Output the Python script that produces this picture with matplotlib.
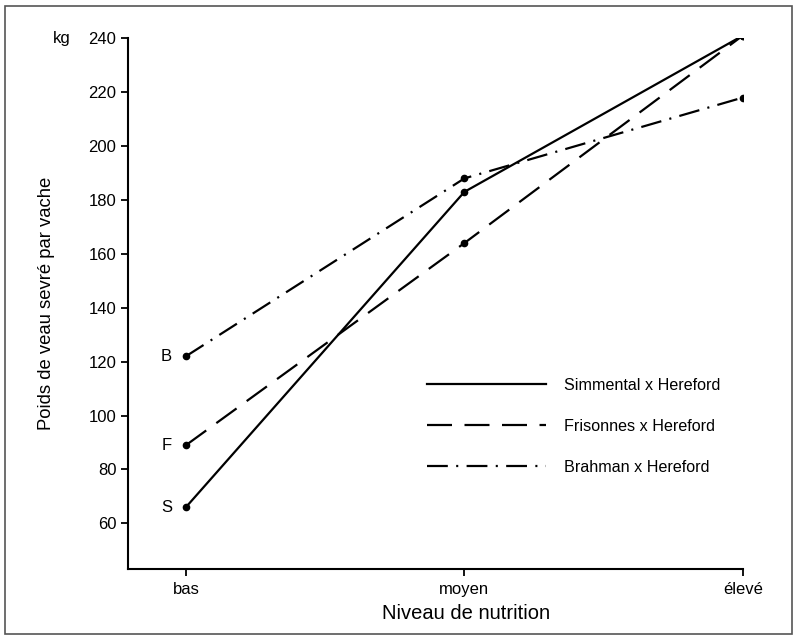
import matplotlib.pyplot as plt
import matplotlib.patches as patches

plt.rcParams['font.family'] = ['Liberation Sans', 'DejaVu Sans']
plt.rcParams['lines.scale_dashes'] = False

# data
niveaux = ['bas', 'moyen', 'élevé']
simmental = [66, 183, 241]
frisonnes = [89, 164, 241]
brahman = [122, 188, 218]
lettres = ['S', 'F', 'B']

x = list(range(len(niveaux)))

fig = plt.figure(figsize=(7.97, 6.38), dpi=100)
ax = fig.add_axes([0.160, 0.108, 0.772, 0.832])

# border around the whole figure
fig.patches.append(patches.Rectangle((0.006, 0.006), 0.988, 0.985, transform=fig.transFigure,
                                     fill=False, edgecolor='#555555', linewidth=1.2))

lw = 1.6
styles = ['-', (0, (18, 9)), (0, (15, 6, 1.5, 6))]
noms = ['Simmental x Hereford', 'Frisonnes x Hereford', 'Brahman x Hereford']
for serie, ls, nom in zip([simmental, frisonnes, brahman], styles, noms):
    ax.plot(x, serie, color='black', lw=lw, linestyle=ls, label=nom)
    ax.plot(x, serie, color='black', linestyle='none', marker='o', ms=4.5)

for lettre, val in zip(lettres, [simmental[0], frisonnes[0], brahman[0]]):
    ax.annotate(lettre, (x[0], val), xytext=(-14, 0), textcoords='offset points',
                ha='center', va='center', fontsize=12)

ax.set_xlim(-0.21, 2.0)
ax.set_ylim(43, 240)
ax.set_xticks(x)
ax.set_xticklabels(niveaux)
ax.set_yticks(range(60, 241, 20))
ax.tick_params(axis='both', labelsize=12, length=5, width=1.3, direction='out')
ax.tick_params(axis='x', pad=4)
ax.tick_params(axis='y', pad=3)

for s in ['top', 'right']:
    ax.spines[s].set_visible(False)
for s in ['left', 'bottom']:
    ax.spines[s].set_linewidth(1.5)

ax.set_xlabel('Niveau de nutrition', fontsize=14.5)
ax.xaxis.set_label_coords(0.55, -0.066)
ax.set_ylabel('Poids de veau sevré par vache', fontsize=13.3)
ax.yaxis.set_label_coords(-0.118, 0.5)
ax.text(-0.093, 1.0, 'kg', transform=ax.transAxes, ha='right', va='center', fontsize=12)

ax.legend(loc='center left', bbox_to_anchor=(0.487, 0.269), frameon=False,
          handlelength=7.4, handletextpad=1.1, labelspacing=1.6, fontsize=11.6,
          borderpad=0, borderaxespad=0)

fig.savefig('out.png', dpi=100)
